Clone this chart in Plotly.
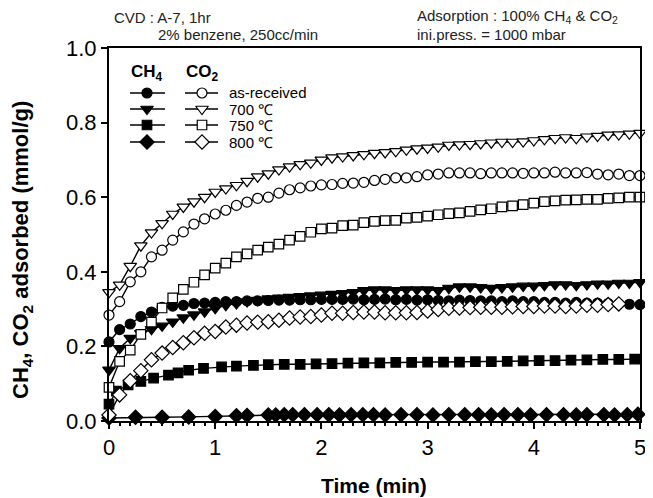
import plotly.graph_objects as go

# ---------------- data ----------------
t_grid = [round(0.1 * i, 1) for i in range(51)]

co2_700 = [0.345, 0.365, 0.415, 0.47, 0.505, 0.53, 0.555, 0.574, 0.588, 0.60,
           0.614, 0.623, 0.632, 0.643, 0.655, 0.663, 0.674, 0.682, 0.688, 0.692,
           0.70, 0.706, 0.709, 0.712, 0.715, 0.718, 0.72, 0.723, 0.727, 0.73,
           0.732, 0.735, 0.74, 0.741, 0.742, 0.744, 0.746, 0.748, 0.748, 0.749,
           0.752, 0.755, 0.758, 0.76, 0.758, 0.762, 0.764, 0.767, 0.768, 0.77, 0.772]

co2_asrec = [0.284, 0.32, 0.373, 0.40, 0.44, 0.458, 0.485, 0.507, 0.528, 0.542,
             0.555, 0.565, 0.578, 0.587, 0.597, 0.60, 0.611, 0.62, 0.625, 0.63,
             0.633, 0.634, 0.637, 0.638, 0.64, 0.645, 0.648, 0.652, 0.652, 0.655,
             0.66, 0.662, 0.665, 0.665, 0.665, 0.663, 0.665, 0.665, 0.665, 0.664,
             0.665, 0.665, 0.667, 0.665, 0.665, 0.666, 0.662, 0.66, 0.662, 0.658, 0.658]

co2_750 = [0.09, 0.16, 0.19, 0.232, 0.265, 0.303, 0.33, 0.353, 0.372, 0.392,
           0.41, 0.423, 0.44, 0.448, 0.458, 0.466, 0.474, 0.485, 0.495, 0.506,
           0.515, 0.517, 0.524, 0.525, 0.532, 0.535, 0.537, 0.538, 0.544, 0.546,
           0.549, 0.553, 0.556, 0.558, 0.562, 0.566, 0.569, 0.574, 0.577, 0.58,
           0.584, 0.588, 0.59, 0.592, 0.593, 0.594, 0.594, 0.597, 0.598, 0.60, 0.60]

t_co2_800 = [round(0.1 * i, 1) for i in range(49)]
co2_800 = [0.016, 0.07, 0.108, 0.135, 0.164, 0.182, 0.197, 0.21, 0.223, 0.235,
           0.24, 0.252, 0.257, 0.263, 0.265, 0.266, 0.27, 0.276, 0.279, 0.28,
           0.284, 0.289, 0.289, 0.291, 0.292, 0.292, 0.29, 0.29, 0.29, 0.291,
           0.295, 0.299, 0.302, 0.303, 0.304, 0.305, 0.305, 0.305, 0.306, 0.307,
           0.307, 0.308, 0.308, 0.307, 0.308, 0.31, 0.31, 0.312, 0.314]

ch4_asrec = [0.212, 0.245, 0.26, 0.28, 0.292, 0.305, 0.308, 0.31, 0.315, 0.316,
             0.318, 0.32, 0.32, 0.322, 0.322, 0.323, 0.324, 0.324, 0.325, 0.325,
             0.326, 0.326, 0.326, 0.327, 0.325, 0.326, 0.327, 0.325, 0.326, 0.324,
             0.325, 0.323, 0.322, 0.324, 0.323, 0.322, 0.322, 0.32, 0.322, 0.32,
             0.32, 0.318, 0.318, 0.316, 0.318, 0.316, 0.316, 0.315, 0.314, 0.313, 0.312]

ch4_700 = [0.137, 0.195, 0.222, 0.235, 0.246, 0.255, 0.266, 0.277, 0.285, 0.293,
           0.302, 0.31, 0.315, 0.32, 0.324, 0.328, 0.33, 0.332, 0.334, 0.336,
           0.338, 0.34, 0.342, 0.345, 0.35, 0.352, 0.352, 0.35, 0.352, 0.352,
           0.352, 0.35, 0.356, 0.36, 0.36, 0.358, 0.356, 0.358, 0.36, 0.362,
           0.362, 0.364, 0.366, 0.366, 0.364, 0.366, 0.368, 0.368, 0.37, 0.37, 0.372]

t_ch4_750 = [0.0, 0.07, 0.18, 0.3, 0.42, 0.56, 0.65, 0.75, 0.89, 1.06, 1.2, 1.36,
             1.5, 1.65, 1.8, 1.95, 2.1, 2.25, 2.4, 2.55, 2.7, 2.85, 3.0, 3.15,
             3.3, 3.45, 3.6, 3.75, 3.9, 4.05, 4.2, 4.35, 4.5, 4.65, 4.8, 4.95]
ch4_750 = [0.045, 0.08, 0.097, 0.106, 0.115, 0.123, 0.129, 0.136, 0.141, 0.145, 0.147, 0.149,
           0.151, 0.152, 0.152, 0.153, 0.154, 0.155, 0.156, 0.156, 0.157, 0.157, 0.158, 0.158,
           0.158, 0.159, 0.159, 0.16, 0.161, 0.162, 0.162, 0.163, 0.164, 0.165, 0.165, 0.166]

t_ch4_800 = [0.0, 0.25, 0.5, 0.75, 1.0, 1.2, 1.3, 1.5, 1.57, 1.65, 1.73, 1.84,
             1.96, 2.07, 2.17, 2.28, 2.39, 2.49, 2.6, 2.75, 2.9, 3.05, 3.2, 3.35,
             3.48, 3.6, 3.72, 3.85, 3.97, 4.12, 4.28, 4.4, 4.5, 4.66, 4.76, 4.88, 4.98]
ch4_800 = [0.008, 0.01, 0.01, 0.011, 0.012, 0.014, 0.015, 0.016, 0.016, 0.017, 0.017, 0.017,
           0.017, 0.017, 0.016, 0.017, 0.017, 0.017, 0.016, 0.017, 0.017, 0.016, 0.017, 0.017,
           0.017, 0.016, 0.017, 0.017, 0.016, 0.017, 0.017, 0.016, 0.017, 0.017, 0.016, 0.017, 0.018]

legend_labels = ["as-received", "700 \u2103", "750 \u2103", "800 \u2103"]
x_ticks = [0, 1, 2, 3, 4, 5]
y_ticks = [0.0, 0.2, 0.4, 0.6, 0.8, 1.0]
y_ticktext = ["0.0", "0.2", "0.4", "0.6", "0.8", "1.0"]

# ---------------- styles ----------------
FONT = "Arial, Liberation Sans, sans-serif"
BLK = "black"
symbols = ["circle", "triangle-down", "square", "diamond"]
sizes = [10, 11, 9.5, 11]

# page has an 8px body margin: compensate so the plot area sits at
# x 109..640, y 48..421 in the 653x498 window
OFF = 8
PW, PH = 531, 373          # plot-area size in px
PL, PT = 109, 48           # plot-area top-left in window px

fig = go.Figure()

def add(x, y, sym, size, filled):
    fig.add_trace(go.Scatter(
        x=x, y=y, mode="lines+markers",
        line=dict(color=BLK, width=1.4),
        marker=dict(symbol=sym, size=size,
                    color=BLK if filled else "white",
                    line=dict(color=BLK, width=1.2)),
        cliponaxis=False, showlegend=False, hoverinfo="skip"))

# CH4 (filled)
add(t_ch4_800, ch4_800, symbols[3], sizes[3], True)
add(t_ch4_750, ch4_750, symbols[2], sizes[2], True)
add(t_grid, ch4_700, symbols[1], sizes[1], True)
add(t_grid, ch4_asrec, symbols[0], sizes[0], True)
# CO2 (open)
add(t_co2_800, co2_800, symbols[3], sizes[3], False)
add(t_grid, co2_750, symbols[2], sizes[2], False)
add(t_grid, co2_asrec, symbols[0], sizes[0], False)
add(t_grid, co2_700, symbols[1], sizes[1], False)

def px(xw):   # window x px -> paper fraction
    return (xw - PL) / PW

def py(yw):   # window y px -> paper fraction
    return (PT + PH - yw) / PH

# ---------------- legend keys (overlay axis in plot-fraction units) ----------------
rows_y = [py(93), py(109), py(125), py(142)]
ch4_x = (px(130), px(147), px(165))
co2_x = (px(185), px(202), px(218))
for i, ry in enumerate(rows_y):
    for (x0, xm, x1), filled in ((ch4_x, True), (co2_x, False)):
        fig.add_trace(go.Scatter(
            x=[x0, x1], y=[ry, ry], mode="lines", line=dict(color=BLK, width=1.4),
            xaxis="x2", yaxis="y2", showlegend=False, hoverinfo="skip"))
        fig.add_trace(go.Scatter(
            x=[xm], y=[ry], mode="markers",
            marker=dict(symbol=symbols[i], size=sizes[i],
                        color=BLK if filled else "white",
                        line=dict(color=BLK, width=1.2)),
            xaxis="x2", yaxis="y2", showlegend=False, hoverinfo="skip"))
    fig.add_annotation(x=px(227), y=ry, xref="paper", yref="paper", text=legend_labels[i],
                       showarrow=False, xanchor="left", yanchor="middle",
                       font=dict(family=FONT, size=15, color=BLK))

for label, xc in (("CH<sub>4</sub>", ch4_x[1]), ("CO<sub>2</sub>", co2_x[1])):
    fig.add_annotation(x=xc, y=py(73), xref="paper", yref="paper", text=label,
                       showarrow=False, xanchor="center", yanchor="middle",
                       font=dict(family=FONT, size=17, color=BLK, weight="bold"))

# ---------------- header texts ----------------
hdr = dict(family=FONT, size=15, color="#222")
fig.add_annotation(x=px(112), y=py(18), xref="paper", yref="paper",
                   text="CVD : A-7, 1hr", showarrow=False, xanchor="left", yanchor="middle", font=hdr)
fig.add_annotation(x=px(156), y=py(35), xref="paper", yref="paper",
                   text="2% benzene, 250cc/min", showarrow=False, xanchor="left", yanchor="middle", font=hdr)
fig.add_annotation(x=px(415), y=py(17), xref="paper", yref="paper",
                   text="Adsorption : 100% CH<sub>4</sub> & CO<sub>2</sub>", showarrow=False,
                   xanchor="left", yanchor="middle", font=hdr)
fig.add_annotation(x=px(415), y=py(35), xref="paper", yref="paper",
                   text="ini.press. = 1000 mbar", showarrow=False, xanchor="left", yanchor="middle", font=hdr)

# axis titles
fig.add_annotation(x=px(22), y=py(250), xref="paper", yref="paper",
                   text="CH<sub>4</sub>, CO<sub>2</sub> adsorbed (mmol/g)", textangle=-90,
                   showarrow=False, xanchor="center", yanchor="middle",
                   font=dict(family=FONT, size=22, color=BLK, weight="bold"))
fig.add_annotation(x=px(374), y=py(486), xref="paper", yref="paper",
                   text="Time (min)", showarrow=False, xanchor="center", yanchor="middle",
                   font=dict(family=FONT, size=21, color=BLK, weight="bold"))

fig.update_layout(
    width=653 - OFF, height=498 - OFF,
    margin=dict(l=PL - OFF, r=653 - PL - PW, t=PT - OFF, b=498 - PT - PH, autoexpand=False),
    paper_bgcolor="white", plot_bgcolor="white",
    font=dict(family=FONT, color=BLK),
    xaxis=dict(range=[0, 5], tickvals=x_ticks, ticks="outside", ticklen=6, tickwidth=1.5,
               tickcolor=BLK, showline=True, linecolor=BLK, linewidth=2, mirror=True,
               showgrid=False, zeroline=False, tickfont=dict(size=22, color=BLK),
               minor=dict(dtick=0.1, ticks="outside", ticklen=3, tickcolor=BLK, showgrid=False)),
    yaxis=dict(range=[0, 1.0], tickvals=y_ticks, ticktext=y_ticktext,
               ticks="outside", ticklen=6, tickwidth=1.5,
               tickcolor=BLK, showline=True, linecolor=BLK, linewidth=2, mirror=True,
               showgrid=False, zeroline=False, tickfont=dict(size=22, color=BLK)),
    xaxis2=dict(range=[0, 1], overlaying="x", visible=False, fixedrange=True),
    yaxis2=dict(range=[0, 1], overlaying="y", visible=False, fixedrange=True),
)

fig.write_html("out.html")
